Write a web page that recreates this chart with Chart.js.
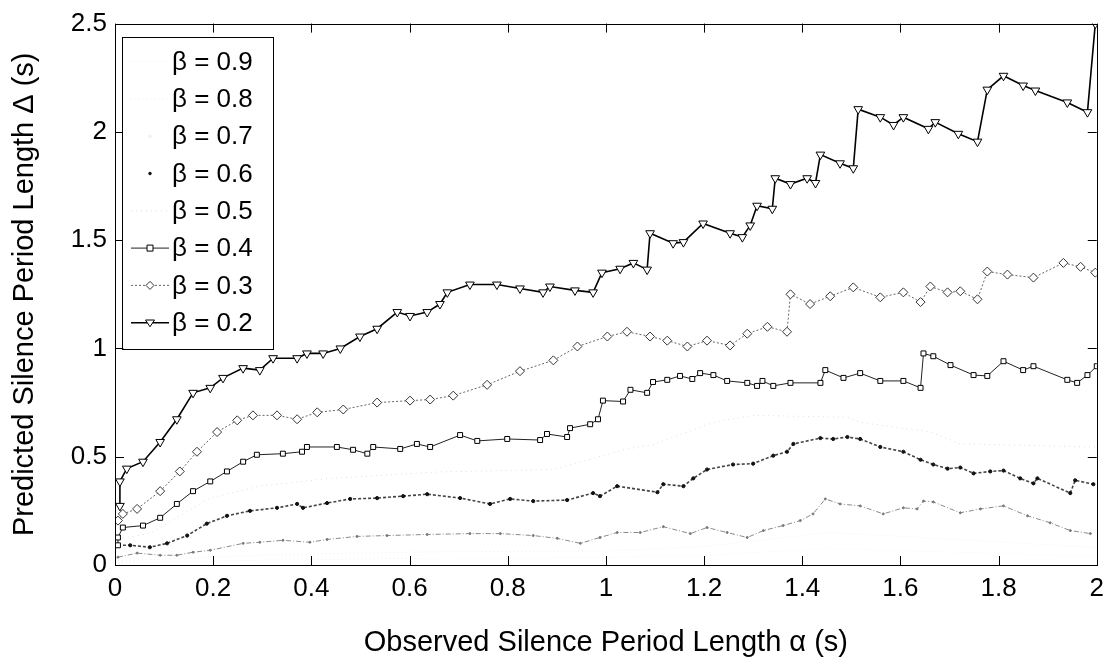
<!DOCTYPE html>
<html>
<head>
<meta charset="utf-8">
<script src="https://cdn.jsdelivr.net/npm/chart.js@4.4.1/dist/chart.umd.min.js"></script>
<style>
  html, body { margin: 0; padding: 0; background: #fff; }
</style>
</head>
<body>
<canvas id="my-chart" width="1112" height="666"></canvas>
<script>
// values (alpha in s, predicted delta in s)
var b2X = [0.010, 0.010, 0.024, 0.057, 0.092, 0.126, 0.159, 0.194, 0.220, 0.261, 0.295, 0.322, 0.371, 0.391, 0.424, 0.459, 0.499, 0.534, 0.575, 0.601, 0.636, 0.662, 0.677, 0.723, 0.778, 0.825, 0.872, 0.886, 0.937, 0.974, 0.992, 1.029, 1.056, 1.084, 1.090, 1.137, 1.158, 1.198, 1.253, 1.278, 1.294, 1.308, 1.339, 1.345, 1.376, 1.410, 1.427, 1.437, 1.477, 1.504, 1.514, 1.559, 1.586, 1.606, 1.657, 1.671, 1.718, 1.757, 1.777, 1.810, 1.850, 1.875, 1.940, 1.981, 1.997];
var b2Y = [0.273, 0.386, 0.445, 0.477, 0.568, 0.673, 0.795, 0.818, 0.864, 0.909, 0.900, 0.955, 0.955, 0.977, 0.977, 1.000, 1.055, 1.091, 1.168, 1.150, 1.168, 1.205, 1.259, 1.295, 1.295, 1.277, 1.259, 1.286, 1.268, 1.259, 1.350, 1.368, 1.395, 1.364, 1.532, 1.486, 1.491, 1.577, 1.532, 1.514, 1.568, 1.659, 1.645, 1.786, 1.759, 1.786, 1.764, 1.895, 1.855, 1.832, 2.105, 2.068, 2.032, 2.068, 2.014, 2.045, 1.991, 1.955, 2.195, 2.259, 2.214, 2.191, 2.136, 2.091, 2.5];

var b3X = [0.006, 0.016, 0.045, 0.092, 0.132, 0.167, 0.208, 0.249, 0.281, 0.330, 0.371, 0.412, 0.465, 0.534, 0.601, 0.642, 0.689, 0.758, 0.825, 0.893, 0.942, 1.003, 1.043, 1.090, 1.125, 1.166, 1.206, 1.253, 1.288, 1.329, 1.369, 1.376, 1.416, 1.457, 1.504, 1.559, 1.606, 1.641, 1.661, 1.696, 1.722, 1.757, 1.777, 1.818, 1.871, 1.932, 1.967, 1.997];
var b3Y = [0.205, 0.236, 0.259, 0.341, 0.432, 0.523, 0.614, 0.668, 0.691, 0.691, 0.673, 0.705, 0.718, 0.750, 0.759, 0.764, 0.782, 0.832, 0.895, 0.945, 1.009, 1.055, 1.077, 1.055, 1.036, 1.009, 1.036, 1.014, 1.068, 1.100, 1.077, 1.250, 1.205, 1.241, 1.282, 1.236, 1.259, 1.214, 1.286, 1.259, 1.264, 1.227, 1.355, 1.341, 1.327, 1.395, 1.377, 1.350];

var b4X = [0.006, 0.006, 0.016, 0.057, 0.092, 0.126, 0.159, 0.194, 0.228, 0.261, 0.289, 0.342, 0.381, 0.391, 0.452, 0.485, 0.514, 0.526, 0.581, 0.615, 0.642, 0.703, 0.738, 0.799, 0.866, 0.880, 0.921, 0.927, 0.968, 0.984, 0.994, 1.035, 1.050, 1.084, 1.096, 1.125, 1.151, 1.176, 1.192, 1.219, 1.247, 1.288, 1.308, 1.319, 1.341, 1.376, 1.437, 1.447, 1.484, 1.518, 1.559, 1.606, 1.641, 1.647, 1.667, 1.702, 1.749, 1.777, 1.810, 1.850, 1.871, 1.940, 1.960, 1.981, 2.0];
var b4Y = [0.091, 0.127, 0.173, 0.182, 0.218, 0.282, 0.341, 0.386, 0.432, 0.477, 0.509, 0.514, 0.523, 0.545, 0.545, 0.532, 0.514, 0.545, 0.536, 0.559, 0.545, 0.600, 0.573, 0.582, 0.577, 0.605, 0.591, 0.632, 0.650, 0.673, 0.759, 0.755, 0.809, 0.795, 0.845, 0.855, 0.873, 0.859, 0.886, 0.877, 0.850, 0.841, 0.827, 0.850, 0.827, 0.841, 0.841, 0.900, 0.864, 0.886, 0.850, 0.850, 0.818, 0.977, 0.964, 0.923, 0.877, 0.873, 0.941, 0.900, 0.918, 0.855, 0.841, 0.877, 0.918];

var b5X = [0.006, 0.071, 0.194, 0.295, 0.438, 0.662, 0.893, 1.043, 1.096, 1.219, 1.300, 1.492, 1.518, 1.661, 1.722, 2.0];
var b5Y = [0.120, 0.145, 0.309, 0.364, 0.400, 0.430, 0.441, 0.536, 0.555, 0.659, 0.691, 0.682, 0.659, 0.614, 0.559, 0.545];

var b6X = [0.006, 0.031, 0.071, 0.106, 0.147, 0.187, 0.228, 0.275, 0.330, 0.371, 0.383, 0.432, 0.479, 0.534, 0.587, 0.636, 0.703, 0.764, 0.805, 0.852, 0.921, 0.974, 0.988, 1.023, 1.105, 1.117, 1.158, 1.178, 1.206, 1.259, 1.300, 1.341, 1.369, 1.382, 1.437, 1.463, 1.492, 1.518, 1.559, 1.606, 1.641, 1.667, 1.696, 1.722, 1.749, 1.783, 1.810, 1.844, 1.871, 1.879, 1.946, 1.956, 1.993];
var b6Y = [0.091, 0.091, 0.082, 0.100, 0.136, 0.191, 0.227, 0.250, 0.264, 0.282, 0.264, 0.286, 0.305, 0.309, 0.318, 0.327, 0.309, 0.282, 0.305, 0.295, 0.300, 0.332, 0.318, 0.364, 0.336, 0.373, 0.364, 0.400, 0.441, 0.464, 0.468, 0.505, 0.523, 0.559, 0.586, 0.582, 0.591, 0.582, 0.545, 0.523, 0.486, 0.464, 0.445, 0.450, 0.423, 0.432, 0.436, 0.400, 0.377, 0.400, 0.332, 0.391, 0.373];

var b7X = [0.006, 0.045, 0.092, 0.126, 0.159, 0.194, 0.261, 0.295, 0.342, 0.397, 0.432, 0.493, 0.554, 0.636, 0.723, 0.785, 0.852, 0.901, 0.948, 0.988, 1.023, 1.070, 1.117, 1.172, 1.206, 1.247, 1.288, 1.321, 1.361, 1.396, 1.422, 1.447, 1.477, 1.518, 1.565, 1.606, 1.634, 1.647, 1.667, 1.722, 1.763, 1.810, 1.859, 1.905, 1.946, 1.987];
var b7Y = [0.036, 0.055, 0.045, 0.045, 0.059, 0.068, 0.100, 0.105, 0.114, 0.105, 0.118, 0.132, 0.136, 0.141, 0.145, 0.145, 0.136, 0.123, 0.100, 0.127, 0.150, 0.150, 0.177, 0.145, 0.173, 0.150, 0.127, 0.159, 0.182, 0.205, 0.236, 0.305, 0.282, 0.273, 0.236, 0.264, 0.259, 0.295, 0.291, 0.241, 0.259, 0.273, 0.227, 0.195, 0.159, 0.145];

var b8X = [0.006, 0.3, 0.6, 1.0, 1.2, 1.45, 1.7, 2.0];
var b8Y = [0.020, 0.045, 0.060, 0.065, 0.085, 0.150, 0.120, 0.080];
var b9X = [0.006, 0.3, 0.6, 1.0, 1.2, 1.45, 1.7, 2.0];
var b9Y = [0.010, 0.022, 0.030, 0.034, 0.045, 0.075, 0.060, 0.040];

var betaLabels = ['\u03b2 = 0.9', '\u03b2 = 0.8', '\u03b2 = 0.7', '\u03b2 = 0.6', '\u03b2 = 0.5', '\u03b2 = 0.4', '\u03b2 = 0.3', '\u03b2 = 0.2'];
var xTitle = 'Observed Silence Period Length \u03b1 (s)';
var yTitle = 'Predicted Silence Period Length \u0394 (s)';

var FONT = '"Liberation Sans", Arial, Helvetica, sans-serif';

var pts = function(xs, ys) {
  var out = [];
  for (var i = 0; i < xs.length; i++) out.push({x: xs[i], y: ys[i]});
  return out;
};

// one style per series, same order as betaLabels
var seriesData = [[b9X, b9Y], [b8X, b8Y], [b7X, b7Y], [b6X, b6Y], [b5X, b5Y], [b4X, b4Y], [b3X, b3Y], [b2X, b2Y]];
var styles = [
  {color: '#f2f2f2', width: 1, dash: [1, 3], marker: 'none', r: 0},
  {color: '#eeeeee', width: 1, dash: [1, 3], marker: 'none', r: 0},
  {color: '#8a8a8a', width: 1, dash: [5, 2, 1, 2], marker: 'dot', r: 1, fill: '#777', legend: '#f0f0f0'},
  {color: '#444', width: 1.6, dash: [3, 2], marker: 'dot', r: 1.6, fill: '#111'},
  {color: '#dedede', width: 1, dash: [1, 4], marker: 'none', r: 0},
  {color: '#222', width: 1, dash: [], marker: 'square', r: 3.5},
  {color: '#666', width: 1, dash: [2, 2], marker: 'diamond', r: 4.5},
  {color: '#000', width: 1.6, dash: [], marker: 'tridown', r: 5}
];

var pointStyleOf = function(m) {
  if (m === 'square') return 'rect';
  if (m === 'diamond') return 'rectRot';
  if (m === 'tridown') return 'triangle';
  return 'circle';
};

var datasets = [];
for (var i = 0; i < seriesData.length; i++) {
  var s = styles[i];
  var mk = s.marker !== 'none';
  datasets.push({
    label: betaLabels[i],
    data: pts(seriesData[i][0], seriesData[i][1]),
    borderColor: s.color,
    borderWidth: s.width,
    borderDash: s.dash,
    tension: 0,
    pointStyle: pointStyleOf(s.marker),
    pointRotation: s.marker === 'tridown' ? 180 : 0,
    pointRadius: mk ? s.r : 0,
    pointBorderWidth: 1,
    pointBorderColor: s.fill ? s.fill : (s.marker === 'diamond' ? '#333' : '#000'),
    pointBackgroundColor: s.fill ? s.fill : '#fff',
    order: seriesData.length - i
  });
}

var drawMarker = function(ctx, m, x, y, r, fill) {
  ctx.beginPath();
  if (m === 'square') {
    ctx.rect(x - r, y - r, 2 * r, 2 * r);
  } else if (m === 'diamond') {
    ctx.moveTo(x, y - r); ctx.lineTo(x + r, y); ctx.lineTo(x, y + r); ctx.lineTo(x - r, y); ctx.closePath();
  } else if (m === 'tridown') {
    ctx.moveTo(x - r, y - r * 0.6); ctx.lineTo(x + r, y - r * 0.6); ctx.lineTo(x, y + r * 0.9); ctx.closePath();
  } else {
    ctx.arc(x, y, r, 0, Math.PI * 2);
  }
  ctx.fillStyle = fill || '#fff';
  ctx.fill();
  ctx.stroke();
};

// matlab style box with inward ticks, plus the boxed legend
var frame = {
  id: 'frame',
  afterDraw: function(chart) {
    var a = chart.chartArea, ctx = chart.ctx;
    var xs = chart.scales.x, ys = chart.scales.y;
    ctx.save();
    ctx.strokeStyle = '#000';
    ctx.lineWidth = 1;
    ctx.setLineDash([]);
    ctx.strokeRect(Math.round(a.left) + 0.5, Math.round(a.top) + 0.5, Math.round(a.right - a.left), Math.round(a.bottom - a.top));
    ctx.beginPath();
    xs.ticks.forEach(function(t) {
      var px = Math.round(xs.getPixelForValue(t.value)) + 0.5;
      ctx.moveTo(px, a.bottom); ctx.lineTo(px, a.bottom - 9);
      ctx.moveTo(px, a.top); ctx.lineTo(px, a.top + 9);
    });
    ys.ticks.forEach(function(t) {
      var py = Math.round(ys.getPixelForValue(t.value)) + 0.5;
      ctx.moveTo(a.left, py); ctx.lineTo(a.left + 9, py);
      ctx.moveTo(a.right, py); ctx.lineTo(a.right - 9, py);
    });
    ctx.stroke();

    var lx = a.left + 7, ly = a.top + 13, lw = 151, lh = 312, row = 37.3;
    ctx.fillStyle = '#fff';
    ctx.fillRect(lx, ly, lw, lh);
    ctx.strokeRect(Math.round(lx) + 0.5, Math.round(ly) + 0.5, lw, lh);
    ctx.font = '26px ' + FONT;
    ctx.textBaseline = 'middle';
    ctx.textAlign = 'left';
    for (var i = 0; i < betaLabels.length; i++) {
      var st = styles[i];
      var cy = ly + 25 + i * row;
      if (st.marker !== 'dot') {
        ctx.strokeStyle = st.color;
        ctx.lineWidth = st.width;
        ctx.setLineDash(st.dash);
        ctx.beginPath();
        ctx.moveTo(lx + 9, cy); ctx.lineTo(lx + 47, cy);
        ctx.stroke();
      }
      ctx.setLineDash([]);
      ctx.lineWidth = 1;
      if (st.marker === 'dot') {
        var c = st.legend || st.fill;
        ctx.strokeStyle = c;
        drawMarker(ctx, 'dot', lx + 28, cy, 1.3, c);
      } else if (st.marker !== 'none') {
        ctx.strokeStyle = st.marker === 'diamond' ? '#333' : '#000';
        drawMarker(ctx, st.marker, lx + 28, cy, st.r - 0.5, '#fff');
      }
      ctx.fillStyle = '#000';
      ctx.fillText(betaLabels[i], lx + 50, cy + 1);
    }
    ctx.restore();
  }
};

var tickText = function(value) {
  return String(Math.round(value * 10) / 10);
};

var ctx = document.getElementById('my-chart');
var myChart = new Chart(ctx, {
  type: 'line',
  data: {datasets: datasets},
  options: {
    responsive: false,
    animation: false,
    layout: {padding: {left: 8, right: 15, top: 15, bottom: 6}},
    plugins: {legend: {display: false}, tooltip: {enabled: false}},
    scales: {
      x: {
        type: 'linear',
        min: 0, max: 2,
        grid: {display: false, drawTicks: false, tickLength: 0},
        border: {display: false},
        ticks: {stepSize: 0.2, padding: 8, color: '#000', font: {family: FONT, size: 26}, maxRotation: 0, callback: tickText},
        title: {display: true, text: xTitle, color: '#000', font: {family: FONT, size: 29}, padding: 0},
        afterFit: function(scale) { scale.height = 95; }
      },
      y: {
        type: 'linear',
        min: 0, max: 2.5,
        grid: {display: false, drawTicks: false, tickLength: 0},
        border: {display: false},
        ticks: {stepSize: 0.5, padding: 8, color: '#000', font: {family: FONT, size: 26}, callback: tickText},
        title: {display: true, text: yTitle, color: '#000', font: {family: FONT, size: 29}, padding: 0},
        afterFit: function(scale) { scale.width = 107; }
      }
    }
  },
  plugins: [frame]
});
</script>
</body>
</html>
